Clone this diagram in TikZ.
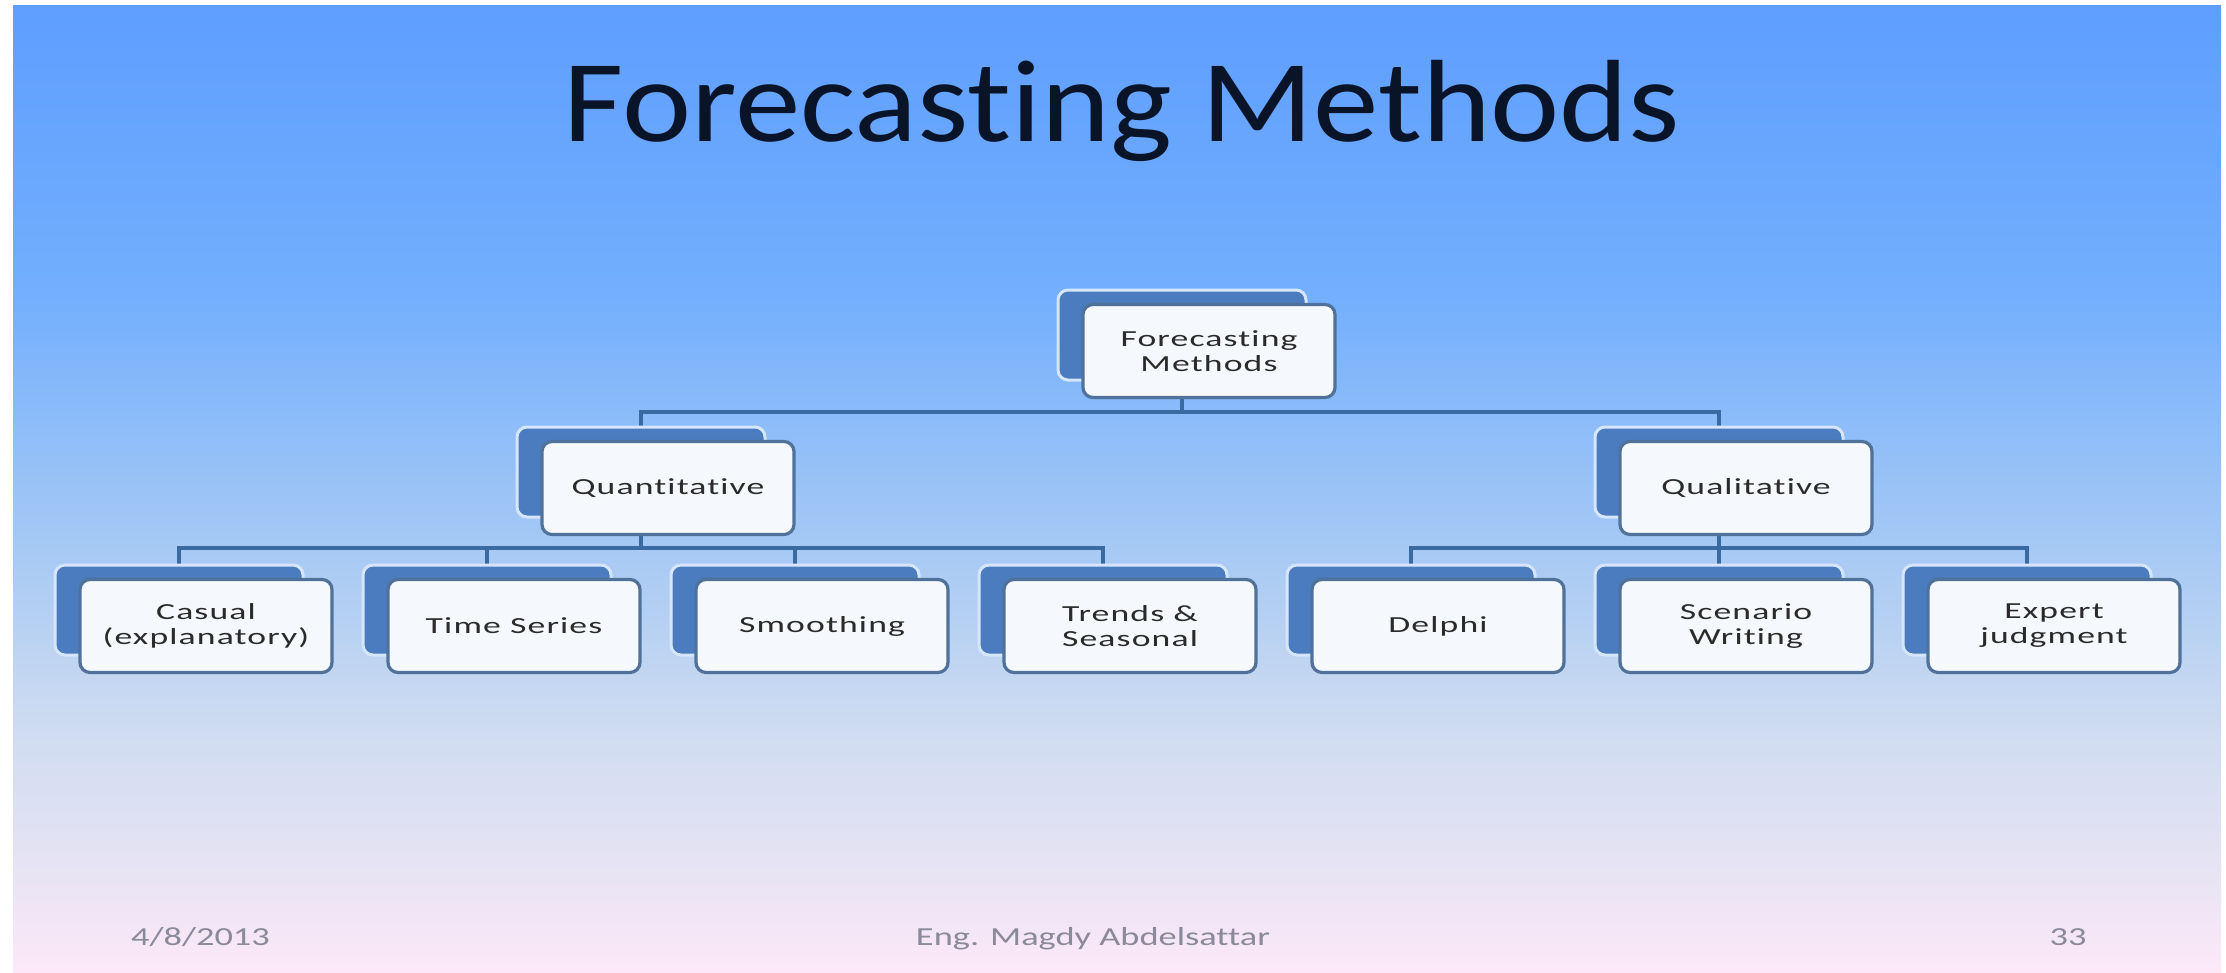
\documentclass[tikz,border=0pt]{standalone}
\usepackage{fontspec}
\setmainfont[Ligatures=NoCommon]{Carlito}
\newfontfamily\titlefont[FakeStretch=1.12,Ligatures=NoCommon]{Carlito}
\newfontfamily\boxfont[FakeStretch=1.55,LetterSpace=5,Ligatures=NoCommon]{Carlito}
\newfontfamily\footfont[FakeStretch=1.4,Ligatures=NoCommon]{Carlito}
\usepackage{xcolor}
\usetikzlibrary{calc}

\definecolor{bgtop}{HTML}{5E9EFF}
\definecolor{bgup}{HTML}{73AFFD}
\definecolor{bgmid}{HTML}{A4C8F4}
\definecolor{bglow}{HTML}{CFDCF1}
\definecolor{bglav}{HTML}{E8E4F4}
\definecolor{bgbot}{HTML}{FDE8F8}
\definecolor{backfill}{HTML}{4A7CBF}
\definecolor{backedge}{HTML}{D6E6FA}
\definecolor{frontfill}{HTML}{F5F8FC}
\definecolor{frontedge}{HTML}{50729A}
\definecolor{linkblue}{HTML}{3A6AA2}
\definecolor{boxtext}{HTML}{2B2B2B}
\definecolor{foottext}{HTML}{8A8A9A}
\definecolor{titletext}{HTML}{0A1428}

% slide background, 25bp..75bp covers the slide
\pgfdeclareverticalshading{slidebg}{100bp}{color(0bp)=(bgbot); color(25bp)=(bgbot);
  color(30bp)=(bglav); color(37.5bp)=(bglow); color(47.5bp)=(bgmid);
  color(60bp)=(bgup); color(75bp)=(bgtop); color(100bp)=(bgtop)}

\pgfdeclarelayer{background}
\pgfsetlayers{background,main}

\begin{document}
\begin{tikzpicture}[x=0.5pt,y=-0.5pt]
  \tikzstyle{back box}=[rectangle,rounded corners=5pt,fill=backfill,draw=backedge,
    line width=1.5pt,minimum width=124pt,minimum height=45pt]
  \tikzstyle{front box}=[rectangle,rounded corners=5pt,fill=frontfill,draw=frontedge,
    line width=1.6pt,minimum width=126pt,minimum height=46.5pt,align=center,
    text=boxtext,font=\boxfont\fontsize{11.5}{12.5}\selectfont]
  \tikzstyle{link}=[draw=linkblue,line width=1.9pt]
  \tikzstyle{foot}=[anchor=base,text=foottext,font=\footfont\fontsize{13}{15}\selectfont]

  \node[anchor=base,text=titletext,font=\titlefont\fontsize{58.5}{64}\selectfont]
    (title) at (1122,142) {Forecasting Methods};

  % top level
  \node[back box] (root-b) at (1182,335) {};
  \node[front box] (root) at ($(root-b)+(27,16)$) {Forecasting\\Methods};

  % second level
  \node[back box] (qnt-b) at (641,472) {};
  \node[front box] (qnt) at ($(qnt-b)+(27,16)$) {Quantitative};
  \node[back box] (qlt-b) at (1719,472) {};
  \node[front box] (qlt) at ($(qlt-b)+(27,16)$) {Qualitative};

  % third level
  \node[back box] (cas-b) at (179,610) {};
  \node[front box] (cas) at ($(cas-b)+(27,16)$) {Casual\\(explanatory)};
  \node[back box] (tms-b) at (487,610) {};
  \node[front box] (tms) at ($(tms-b)+(27,16)$) {Time Series};
  \node[back box] (smo-b) at (795,610) {};
  \node[front box] (smo) at ($(smo-b)+(27,16)$) {Smoothing};
  \node[back box] (trs-b) at (1103,610) {};
  \node[front box] (trs) at ($(trs-b)+(27,16)$) {Trends \&\\Seasonal};
  \node[back box] (dlp-b) at (1411,610) {};
  \node[front box] (dlp) at ($(dlp-b)+(27,16)$) {Delphi};
  \node[back box] (scn-b) at (1719,610) {};
  \node[front box] (scn) at ($(scn-b)+(27,16)$) {Scenario\\Writing};
  \node[back box] (exp-b) at (2027,610) {};
  \node[front box] (exp) at ($(exp-b)+(27,16)$) {Expert\\judgment};

  % footer
  \node[foot,anchor=base west] (date) at (124,945) {4/8/2013};
  \node[foot] (author) at (1093,945) {Eng. Magdy Abdelsattar};
  \node[foot] (page) at (2068,945) {33};

  \coordinate (bus1) at (0,412);
  \coordinate (bus2) at (0,548);

  \begin{pgfonlayer}{background}
    % frame of the page
    \path[fill=white] (0,0) rectangle (2226,973);
    \shade[shading=slidebg] (13,6) rectangle (2221,973);
    \foreach \c in {qnt,qlt}
      \draw[link] (root-b.center) |- (bus1 -| \c-b.center) -- (\c-b.center);
    \foreach \c in {cas,tms,smo,trs}
      \draw[link] (qnt-b.center) |- (bus2 -| \c-b.center) -- (\c-b.center);
    \foreach \c in {dlp,scn,exp}
      \draw[link] (qlt-b.center) |- (bus2 -| \c-b.center) -- (\c-b.center);
  \end{pgfonlayer}
\end{tikzpicture}
\end{document}
